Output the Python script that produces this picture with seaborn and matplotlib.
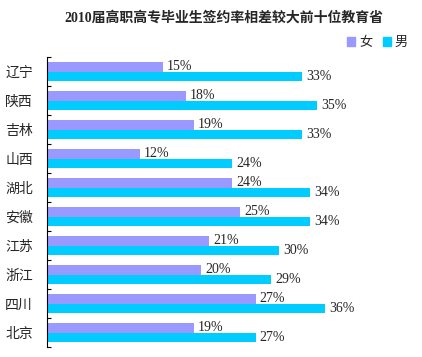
import numpy as np
import pandas as pd
import seaborn as sns
import matplotlib.pyplot as plt
from matplotlib.patches import Patch

provinces = ['辽宁', '陕西', '吉林', '山西', '湖北', '安徽', '江苏', '浙江', '四川', '北京']
female = [15, 18, 19, 12, 24, 25, 21, 20, 27, 19]
male = [33, 35, 33, 24, 34, 34, 30, 29, 36, 27]
sexes = ['女', '男']
colors = {'女': '#9999FF', '男': '#00CCFF'}
title = '2010届高职高专毕业生签约率相差较大前十位教育省'

df = pd.DataFrame({
    '省份': provinces * 2,
    '签约率': female + male,
    '性别': ['女'] * len(provinces) + ['男'] * len(provinces),
})

sns.set_style('white')
plt.rcParams['font.family'] = ['Noto Sans CJK SC', 'DejaVu Sans']

fig = plt.figure(figsize=(4.22, 3.57), dpi=100)
ax = fig.add_axes([0.111, 0.028, 0.861, 0.812])

sns.barplot(data=df, y='省份', x='签约率', hue='性别', order=provinces,
            hue_order=sexes, palette=colors, orient='h', width=0.68,
            saturation=1, legend=False, linewidth=0, ax=ax)

for cont in ax.containers:
    ax.bar_label(cont, fmt='%d%%', padding=3, fontsize=10,
                 family=['Liberation Serif', 'DejaVu Sans'])

n = len(provinces)
ax.set_ylim(n - 0.5, -0.5)
ax.set_xlim(0, 47)
# boundaries get the small tick marks, centres carry the names
ax.set_yticks(np.arange(n + 1) - 0.5, labels=[''] * (n + 1))
ax.set_yticks(np.arange(n), labels=provinces, minor=True)
ax.tick_params(axis='y', which='major', left=True, length=3, direction='in',
               width=0.8, color='black')
ax.tick_params(axis='y', which='minor', left=False, length=0, pad=10, labelsize=10)
ax.set_xticks([])
ax.set_xlabel('')
ax.set_ylabel('')
for s in ['top', 'right', 'bottom']:
    ax.spines[s].set_visible(False)
ax.spines['left'].set_color('black')
ax.spines['left'].set_linewidth(0.8)

fig.text(0.53, 0.95, title, ha='center', va='center', fontsize=10,
         fontweight='bold', family=['Liberation Serif', 'Noto Sans CJK SC'])

handles = [Patch(color=colors[s], label=s) for s in sexes]
fig.legend(handles=handles, loc='center right', bbox_to_anchor=(0.995, 0.88),
           ncol=2, frameon=False, fontsize=9.5, handlelength=0.6, handleheight=0.6,
           handletextpad=0.3, columnspacing=0.8)

fig.savefig('out.png', dpi=100)
